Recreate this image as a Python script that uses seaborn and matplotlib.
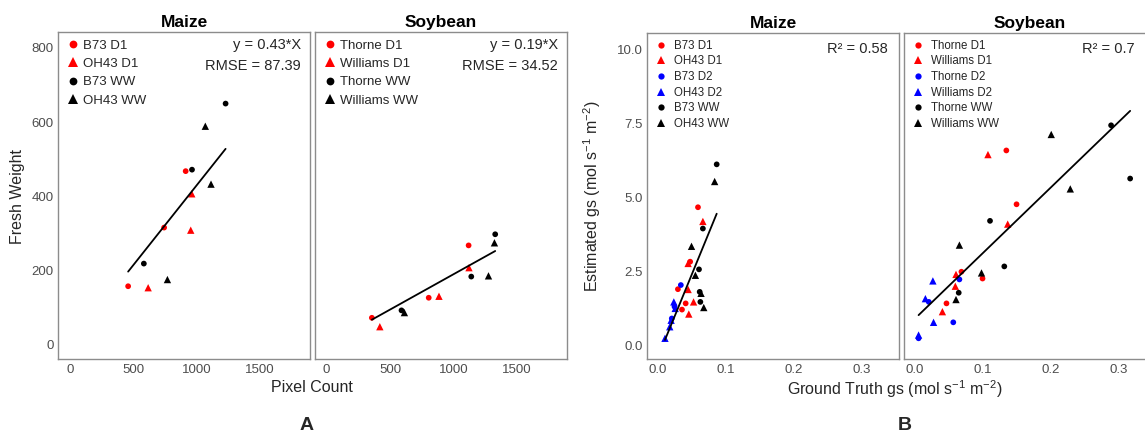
import matplotlib
matplotlib.use("Agg")
import numpy as np
import pandas as pd
import matplotlib.pyplot as plt
import seaborn as sns

# ---- panel A : fresh weight vs pixel count ----
maize_a_labels = ["B73 D1", "OH43 D1", "B73 WW", "OH43 WW"]
maize_a_b73_d1_x = [459, 743, 913]
maize_a_b73_d1_y = [158, 316, 468]
maize_a_oh43_d1_x = [617, 953, 961]
maize_a_oh43_d1_y = [154, 309, 407]
maize_a_b73_ww_x = [583, 963, 1228]
maize_a_b73_ww_y = [219, 472, 650]
maize_a_oh43_ww_x = [769, 1068, 1113]
maize_a_oh43_ww_y = [176, 589, 433]
maize_a_slope = 0.43
maize_a_rmse = 87.39

soy_a_labels = ["Thorne D1", "Williams D1", "Thorne WW", "Williams WW"]
soy_a_thorne_d1_x = [357, 806, 1121]
soy_a_thorne_d1_y = [73, 127, 268]
soy_a_williams_d1_x = [420, 887, 1124]
soy_a_williams_d1_y = [49, 131, 208]
soy_a_thorne_ww_x = [591, 1142, 1331]
soy_a_thorne_ww_y = [93, 184, 298]
soy_a_williams_ww_x = [614, 1278, 1325]
soy_a_williams_ww_y = [87, 186, 275]
soy_a_slope = 0.19
soy_a_rmse = 34.52

# ---- panel B : estimated gs vs ground truth gs ----
maize_b_labels = ["B73 D1", "OH43 D1", "B73 D2", "OH43 D2", "B73 WW", "OH43 WW"]
maize_b_b73_d1_x = [0.0595, 0.048, 0.030, 0.0414, 0.036]
maize_b_b73_d1_y = [4.66, 2.82, 1.89, 1.41, 1.20]
maize_b_oh43_d1_x = [0.0667, 0.045, 0.045, 0.053, 0.046]
maize_b_oh43_d1_y = [4.18, 2.76, 1.88, 1.46, 1.05]
maize_b_b73_d2_x = [0.0343, 0.025, 0.021]
maize_b_b73_d2_y = [2.03, 1.30, 0.90]
maize_b_oh43_d2_x = [0.024, 0.026, 0.020, 0.018, 0.011]
maize_b_oh43_d2_y = [1.46, 1.24, 0.84, 0.62, 0.23]
maize_b_b73_ww_x = [0.087, 0.0667, 0.061, 0.062, 0.063]
maize_b_b73_ww_y = [6.11, 3.94, 2.56, 1.80, 1.46]
maize_b_oh43_ww_x = [0.084, 0.050, 0.0557, 0.064, 0.068]
maize_b_oh43_ww_y = [5.53, 3.34, 2.36, 1.75, 1.27]
maize_b_fit = (56.1, -0.44)
maize_b_r2 = 0.58

soy_b_labels = ["Thorne D1", "Williams D1", "Thorne D2", "Williams D2", "Thorne WW", "Williams WW"]
soy_b_thorne_d1_x = [0.135, 0.150, 0.069, 0.100, 0.047]
soy_b_thorne_d1_y = [6.58, 4.76, 2.48, 2.25, 1.41]
soy_b_williams_d1_x = [0.108, 0.137, 0.061, 0.060, 0.041]
soy_b_williams_d1_y = [6.44, 4.09, 2.39, 1.99, 1.13]
soy_b_thorne_d2_x = [0.066, 0.057, 0.006, 0.021]
soy_b_thorne_d2_y = [2.22, 0.77, 0.23, 1.46]
soy_b_williams_d2_x = [0.027, 0.016, 0.028, 0.006]
soy_b_williams_d2_y = [2.17, 1.57, 0.77, 0.34]
soy_b_thorne_ww_x = [0.289, 0.317, 0.111, 0.132, 0.065]
soy_b_thorne_ww_y = [7.43, 5.63, 4.20, 2.66, 1.77]
soy_b_williams_ww_x = [0.201, 0.229, 0.066, 0.0985, 0.061]
soy_b_williams_ww_y = [7.12, 5.28, 3.38, 2.44, 1.54]
soy_b_fit = (22.2, 0.88)
soy_b_r2 = 0.7


def make_df(labels, xs, ys):
    rows = []
    for lab, x, y in zip(labels, xs, ys):
        for a, b in zip(x, y):
            rows.append({"label": lab, "x": a, "y": b})
    return pd.DataFrame(rows)


def colors_for(labels):
    out = {}
    for lab in labels:
        if "D1" in lab:
            out[lab] = "#FF0000"
        elif "D2" in lab:
            out[lab] = "#0000FF"
        else:
            out[lab] = "#000000"
    return out


def markers_for(labels):
    # groups alternate circle / triangle (first genotype circle, second triangle)
    return {lab: ("^" if i % 2 == 1 else "o") for i, lab in enumerate(labels)}


df_ma = make_df(maize_a_labels,
                [maize_a_b73_d1_x, maize_a_oh43_d1_x, maize_a_b73_ww_x, maize_a_oh43_ww_x],
                [maize_a_b73_d1_y, maize_a_oh43_d1_y, maize_a_b73_ww_y, maize_a_oh43_ww_y])
df_sa = make_df(soy_a_labels,
                [soy_a_thorne_d1_x, soy_a_williams_d1_x, soy_a_thorne_ww_x, soy_a_williams_ww_x],
                [soy_a_thorne_d1_y, soy_a_williams_d1_y, soy_a_thorne_ww_y, soy_a_williams_ww_y])
df_mb = make_df(maize_b_labels,
                [maize_b_b73_d1_x, maize_b_oh43_d1_x, maize_b_b73_d2_x, maize_b_oh43_d2_x,
                 maize_b_b73_ww_x, maize_b_oh43_ww_x],
                [maize_b_b73_d1_y, maize_b_oh43_d1_y, maize_b_b73_d2_y, maize_b_oh43_d2_y,
                 maize_b_b73_ww_y, maize_b_oh43_ww_y])
df_sb = make_df(soy_b_labels,
                [soy_b_thorne_d1_x, soy_b_williams_d1_x, soy_b_thorne_d2_x, soy_b_williams_d2_x,
                 soy_b_thorne_ww_x, soy_b_williams_ww_x],
                [soy_b_thorne_d1_y, soy_b_williams_d1_y, soy_b_thorne_d2_y, soy_b_williams_d2_y,
                 soy_b_thorne_ww_y, soy_b_williams_ww_y])

sns.set_theme(style="white")
plt.rcParams["font.family"] = ["Liberation Sans", "DejaVu Sans"]
plt.rcParams["mathtext.fontset"] = "custom"
plt.rcParams["mathtext.rm"] = "Liberation Sans"
plt.rcParams["mathtext.it"] = "Liberation Sans"

W, H = 1145, 438
fig = plt.figure(figsize=(W / 100, H / 100), dpi=100)
fig.patch.set_facecolor("white")


def add_ax(left, top, right, bottom):
    return fig.add_axes([left / W, (H - bottom) / H, (right - left) / W, (bottom - top) / H])


ax_ma = add_ax(58.3, 32.3, 310, 359)
ax_sa = add_ax(315, 32.3, 566.5, 359)
ax_mb = add_ax(647.3, 33.3, 899, 359)
ax_sb = add_ax(904.3, 33.3, 1156, 359)

tick_col = "#4D4D4D"
frame_col = "#8C8C8C"


def style_ax(ax, title, show_y):
    ax.set_title(title, fontsize=12.5, fontweight="bold", pad=4, color="black")
    for sp in ax.spines.values():
        sp.set_color(frame_col)
        sp.set_linewidth(1.0)
    ax.tick_params(length=0, labelsize=9.5, colors=tick_col, pad=3.5)
    if not show_y:
        ax.tick_params(labelleft=False)
    ax.set_xlabel("")
    ax.set_ylabel("")
    ax.grid(False)


def draw(ax, df, labels, s_circ, s_tri, leg_fs, ms_circ, ms_tri, leg_space, text_pad):
    marks = markers_for(labels)
    sns.scatterplot(data=df, x="x", y="y", hue="label", style="label",
                    hue_order=labels, style_order=labels,
                    palette=colors_for(labels), markers=marks,
                    s=s_circ, linewidth=0, ax=ax, legend=True)
    # triangles look smaller than circles at equal area, enlarge them
    sizes = [s_tri if marks[lab] == "^" else s_circ for lab in df["label"]]
    ax.collections[-1].set_sizes(sizes)
    handles, labs = ax.get_legend_handles_labels()
    for h, lab in zip(handles, labs):
        h.set_markersize(ms_tri if marks[lab] == "^" else ms_circ)
    ax.legend(handles, labs, loc="upper left", frameon=False, fontsize=leg_fs,
              handletextpad=text_pad, labelspacing=leg_space, borderaxespad=0.25,
              borderpad=0.3, handlelength=1.2)


# panel A
draw(ax_ma, df_ma, maize_a_labels, 17, 28, 9.5, 5.6, 7.2, 0.46, 0.15)
draw(ax_sa, df_sa, soy_a_labels, 17, 28, 9.5, 5.6, 7.2, 0.46, 0.15)
for ax, df, slope, rmse in [(ax_ma, df_ma, maize_a_slope, maize_a_rmse),
                            (ax_sa, df_sa, soy_a_slope, soy_a_rmse)]:
    xs = np.array([df["x"].min(), df["x"].max()])
    ax.plot(xs, slope * xs, color="black", lw=1.3, zorder=1)
    ax.text(0.965, 0.961, f"y = {slope:.2f}*X", transform=ax.transAxes,
            ha="right", va="center", fontsize=10.5)
    ax.text(0.965, 0.898, f"RMSE = {rmse:.2f}", transform=ax.transAxes,
            ha="right", va="center", fontsize=10.5)
    ax.set_xlim(-92, 1894)
    ax.set_ylim(-38, 842)
    ax.set_xticks([0, 500, 1000, 1500])
    ax.set_yticks([0, 200, 400, 600, 800])
style_ax(ax_ma, "Maize", True)
style_ax(ax_sa, "Soybean", False)

# panel B
draw(ax_mb, df_mb, maize_b_labels, 17, 28, 8.3, 4.5, 5.6, 0.32, 0.55)
draw(ax_sb, df_sb, soy_b_labels, 17, 28, 8.3, 4.5, 5.6, 0.32, 0.55)
for ax, df, fit, r2 in [(ax_mb, df_mb, maize_b_fit, maize_b_r2),
                        (ax_sb, df_sb, soy_b_fit, soy_b_r2)]:
    xs = np.array([df["x"].min(), df["x"].max()])
    ax.plot(xs, fit[0] * xs + fit[1], color="black", lw=1.3, zorder=1)
    ax.text(0.955 if ax is ax_mb else 0.916, 0.951, f"R\u00b2 = {r2}", transform=ax.transAxes,
            ha="right", va="center", fontsize=10.5)
    ax.set_xlim(-0.015, 0.355)
    ax.set_ylim(-0.47, 10.54)
    ax.set_xticks([0.0, 0.1, 0.2, 0.3])
    ax.set_xticklabels(["0.0", "0.1", "0.2", "0.3"])
    ax.set_yticks([0, 2.5, 5, 7.5, 10])
    ax.set_yticklabels(["0.0", "2.5", "5.0", "7.5", "10.0"])
style_ax(ax_mb, "Maize", True)
style_ax(ax_sb, "Soybean", False)

# shared axis titles
fig.text(312 / W, 1 - 387 / H, "Pixel Count", ha="center", va="center", fontsize=11.5)
fig.text(18 / W, 1 - 196 / H, "Fresh Weight", ha="center", va="center", rotation=90, fontsize=11.5)
fig.text(895 / W, 1 - 389 / H, r"Ground Truth gs (mol s$^{-1}$ m$^{-2}$)",
         ha="center", va="center", fontsize=11.5)
fig.text(592 / W, 1 - 196 / H, r"Estimated gs (mol s$^{-1}$ m$^{-2}$)",
         ha="center", va="center", rotation=90, fontsize=11.5)

fig.text(307 / W, 1 - 425 / H, "A", ha="center", va="center", fontsize=14, fontweight="bold")
fig.text(905 / W, 1 - 425 / H, "B", ha="center", va="center", fontsize=14, fontweight="bold")

fig.savefig("out.png", dpi=100)
